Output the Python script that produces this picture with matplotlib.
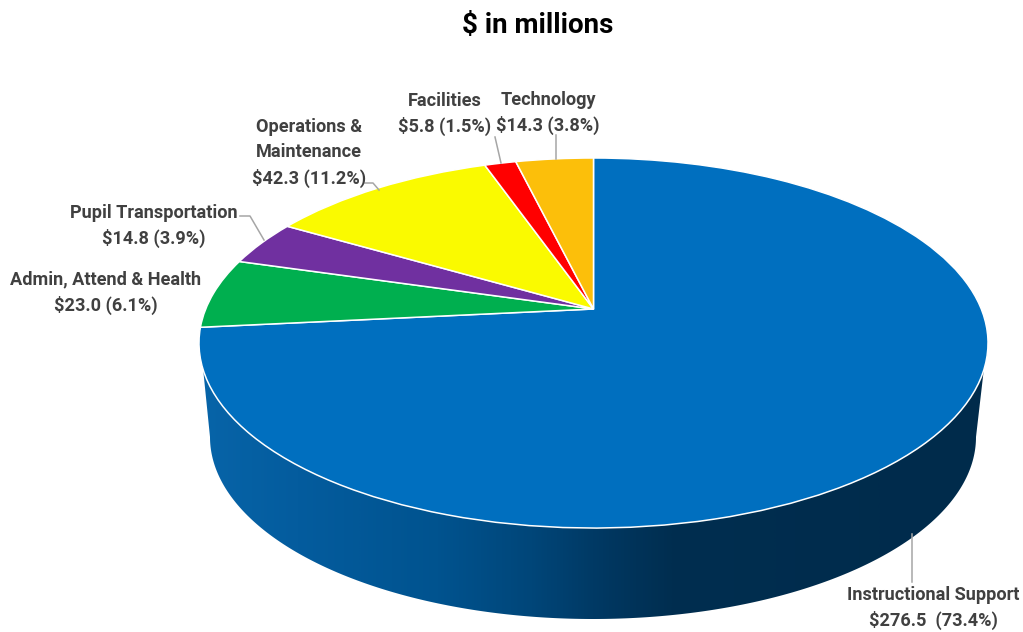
import numpy as np
import matplotlib
matplotlib.use("Agg")
import matplotlib.pyplot as plt
from matplotlib.transforms import Transform
from matplotlib.colors import LinearSegmentedColormap
from matplotlib.patches import Polygon

categories = ["Instructional Support", "Admin, Attend & Health", "Pupil Transportation",
              "Operations &\nMaintenance", "Facilities", "Technology"]
values = [276.5, 23.0, 14.8, 42.3, 5.8, 14.3]
percents = [73.4, 6.1, 3.9, 11.2, 1.5, 3.8]
colors = ["#006FBF", "#00AF4F", "#7030A0", "#FAFA00", "#FF0000", "#FCBF0A"]

label_pos = [(933, 608), (106, 293), (154, 226), (309, 153), (445, 114), (548, 113)]
leaders = [
    [(912, 534), (912, 582)],
    None,
    [(240, 216), (250, 216), (264, 240)],
    [(365, 183), (373, 183), (379, 190)],
    [(495, 137), (501, 163)],
    [(556, 135), (556, 159)],
]

CX, CY, RX, RY = 593.5, 343.0, 394.5, 185.0   # top ellipse in pixels
APEX_OFF = 34.0                               # pie centre sits above ellipse centre


class Tilt(Transform):
    """Perspective map from the unit pie circle to the tilted top face."""
    input_dims = output_dims = 2
    is_affine = False
    has_inverse = False

    def transform_non_affine(self, xy):
        xy = np.asarray(xy, float)
        u, v = xy[:, 0], xy[:, 1]
        b = APEX_OFF / RY
        a = RX * np.sqrt(1 - b ** 2)
        d = 1 + b * v
        return np.column_stack([CX + a * u / d, CY - (RY * v + APEX_OFF) / d])


fig = plt.figure(figsize=(10.23, 6.32), dpi=100)
ax = fig.add_axes([0, 0, 1, 1])

wedges, _ = ax.pie(values, colors=colors, startangle=90, counterclock=False,
                   wedgeprops=dict(edgecolor="white", linewidth=1.1, zorder=3))
ax.set_aspect("auto")
ax.set_xlim(0, 1023)
ax.set_ylim(632, 0)
ax.axis("off")
tilt = Tilt() + ax.transData
for w in wedges:
    w.set_transform(tilt)

# side wall with a horizontal gradient
t = np.linspace(0, np.pi, 240)
bx = 593 - 383 * np.cos(t)
by = 437 + 182 * np.sin(t)
wall_x = np.r_[203, bx, 984, 984, 203]
wall_y = np.r_[368, by, 368, 343, 343]
cmap = LinearSegmentedColormap.from_list("wall", [
    (0.00, "#0764A8"), (0.12, "#045C9E"), (0.30, "#00538F"), (0.42, "#004679"),
    (0.52, "#003760"), (0.60, "#002E50"), (1.00, "#002B4B")])
grad = np.linspace(0, 1, 512)[None, :]
im = ax.imshow(grad, cmap=cmap, extent=(203, 984, 632, 340), aspect="auto", zorder=1)
ax.set_xlim(0, 1023)
ax.set_ylim(632, 0)
clip = Polygon(np.column_stack([wall_x, wall_y]), closed=True, transform=ax.transData,
               facecolor="none", edgecolor="none")
ax.add_patch(clip)
im.set_clip_path(clip)

font = ["Roboto", "Liberation Sans"]
for i, (cat, val, pct) in enumerate(zip(categories, values, percents)):
    sep = "  " if i == 0 else " "
    ax.text(*label_pos[i], f"{cat}\n${val:.1f}{sep}({pct:.1f}%)", ha="center", va="center",
            family=font, fontweight="bold", fontsize=13.1, color="#404040",
            linespacing=1.48, zorder=5)
    if leaders[i]:
        xs, ys = zip(*leaders[i])
        ax.plot(xs, ys, color="#A6A6A6", lw=1.1, zorder=2 if i == 0 else 4)

ax.text(538, 25, "$ in millions", ha="center", va="center", family=font,
        fontweight="bold", fontsize=20, color="black", zorder=5)

fig.savefig("out.png", dpi=100)
